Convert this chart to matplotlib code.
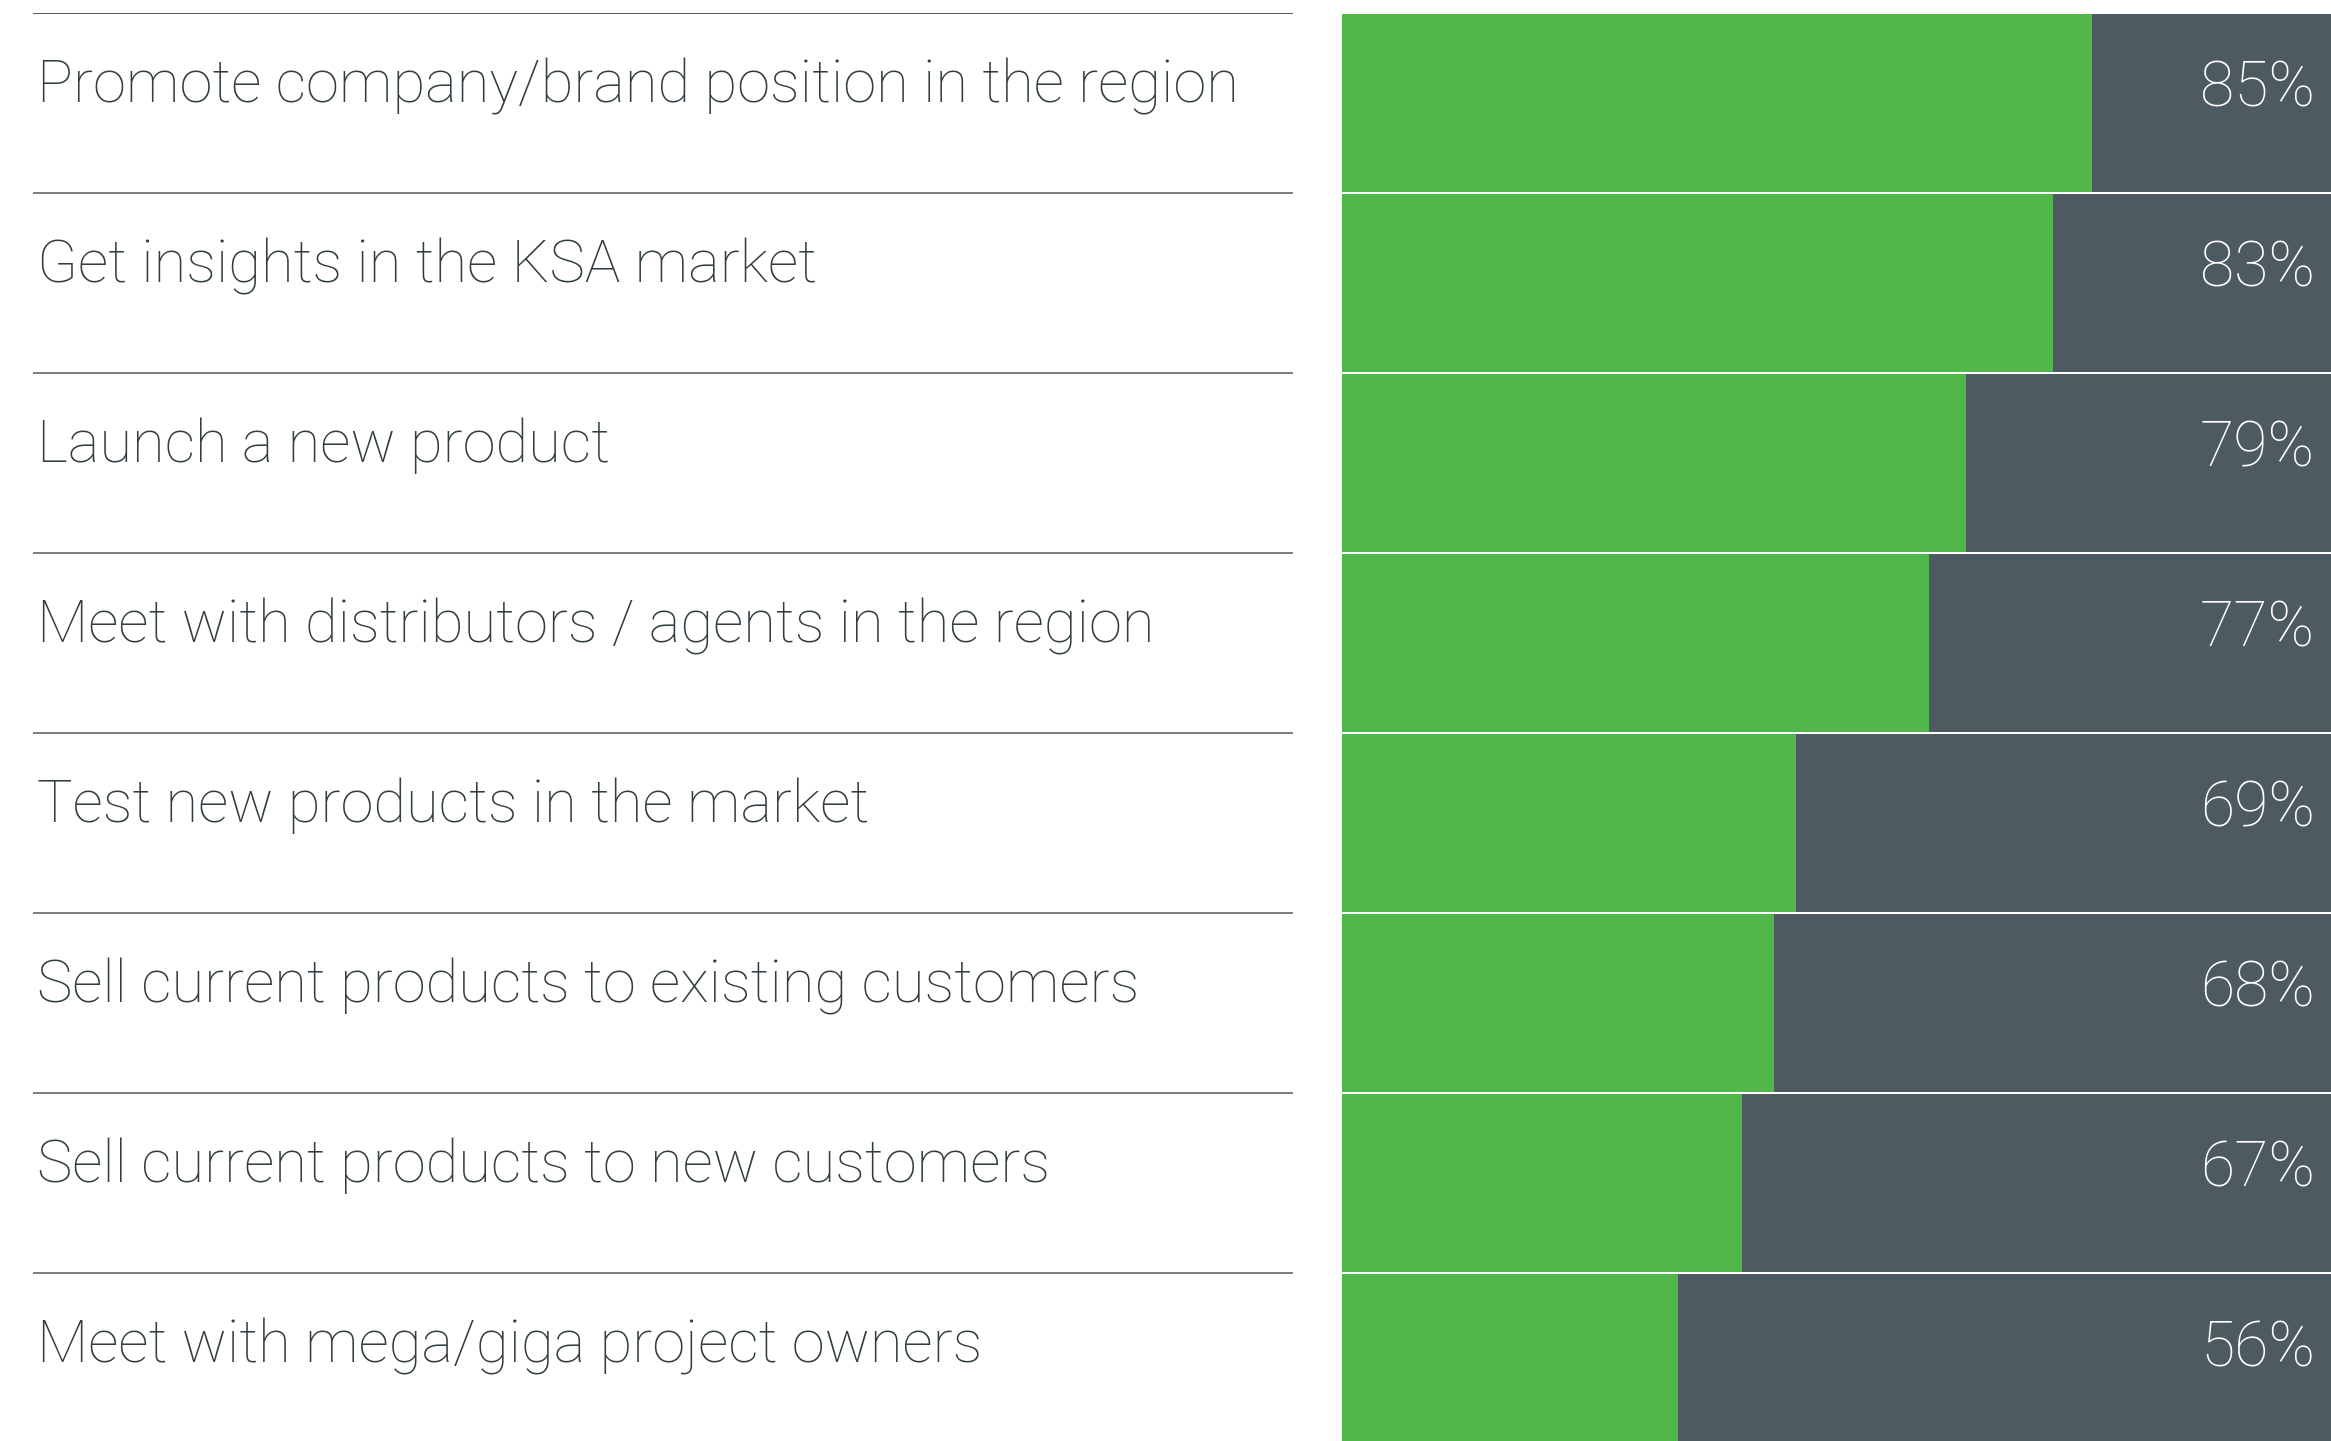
import matplotlib
matplotlib.use('Agg')
import matplotlib.pyplot as plt

# survey answers, top to bottom
labels = [
    'Promote company/brand position in the region',
    'Get insights in the KSA market',
    'Launch a new product',
    'Meet with distributors / agents in the region',
    'Test new products in the market',
    'Sell current products to existing customers',
    'Sell current products to new customers',
    'Meet with mega/giga project owners',
]
pct = [85, 83, 79, 77, 69, 68, 67, 56]
# green bar lengths as drawn (share of the bar track, %)
bar_len = [75.8, 71.9, 63.1, 59.4, 45.9, 43.7, 40.4, 34.0]

GREEN = '#52b74b'
SLATE = '#4e5a61'
TEXT = '#313d42'

W, H = 2331, 1441
fig = plt.figure(figsize=(W / 100, H / 100), dpi=100)
fig.patch.set_facecolor('white')

n = len(labels)
top, row_h = 13, 180
bot = (H - (top + n * row_h)) / H
ht = n * row_h / H

# left: labels and rules
axl = fig.add_axes([33 / W, bot, 1260 / W, ht])
axl.set_xlim(0, 1)
axl.set_ylim(n, 0)
axl.axis('off')
for i in range(n):
    axl.axhline(i, color='#3e4b50' if i == 0 else '#6e7376', lw=1.3)
    axl.text(0.003, i + 0.495, labels[i], fontsize=43, color=TEXT,
             family='Roboto', fontweight='light', va='baseline', ha='left')

# right: bars
axr = fig.add_axes([1342 / W, bot, 989 / W, ht])
axr.set_xlim(0, 100)
axr.set_ylim(n, 0)
axr.axis('off')
ys = [i + 0.5 for i in range(n)]
axr.barh(ys, [100] * n, height=0.988, color=SLATE, lw=0)
axr.barh(ys, bar_len, height=0.988, color=GREEN, lw=0)
for i in range(n):
    axr.text(98.4, i + 0.52, f'{pct[i]}%', fontsize=45, color='white',
             family='Roboto', fontweight='light', va='baseline', ha='right')

fig.savefig('out.png', dpi=100, facecolor='white')
